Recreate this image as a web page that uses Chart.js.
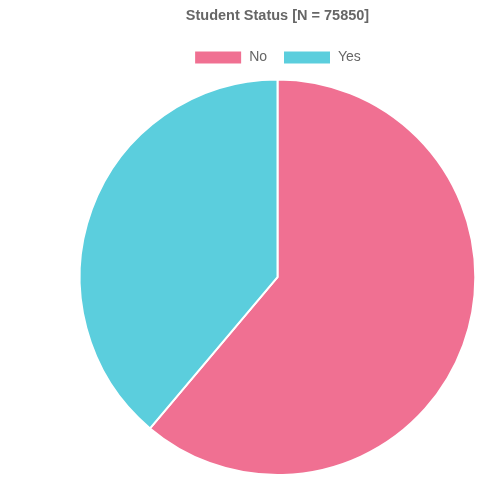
<!DOCTYPE html>
<html>
<head>
<meta charset="utf-8">
<script src="https://cdn.jsdelivr.net/npm/chart.js@4/dist/chart.umd.min.js"></script>
<style>
  html, body { margin: 0; padding: 0; background: #fff; overflow: hidden; }
  #wrap { position: absolute; left: 0; top: 0; width: 555px; height: 479px; }
</style>
</head>
<body>
<div id="wrap"><canvas id="myChart"></canvas></div>
<script>
const labels = ['No', 'Yes'];
const counts = [46380, 29470];
const colors = ['rgb(240, 112, 146)', 'rgb(91, 206, 221)'];

const total = counts.reduce((a, b) => a + b, 0);

// a bit more room under the legend
const legendGap = {
  id: 'legendGap',
  beforeInit(chart) {
    const fit = chart.legend.fit;
    chart.legend.fit = function () {
      fit.bind(chart.legend)();
      this.height += 4;
    };
  },
};

const ctx = document.getElementById('myChart').getContext('2d');
const data = {
  labels,
  datasets: [{
    data: counts,
    backgroundColor: colors,
    borderColor: '#fff',
    borderWidth: 2,
  }],
};
const config = {
  type: 'pie',
  data: data,
  plugins: [legendGap],
  options: {
    responsive: true,
    maintainAspectRatio: false,
    animation: false,
    layout: { padding: { bottom: 3 } },
    plugins: {
      title: {
        display: true,
        text: 'Student Status [N = ' + total + ']',
        color: '#666',
        font: { family: 'Liberation Sans', size: 14.5, weight: 'bold' },
        padding: { top: 7, bottom: 10 },
      },
      legend: {
        position: 'top',
        labels: {
          boxWidth: 48,
          boxHeight: 14,
          color: '#666',
          font: { family: 'Liberation Sans', size: 14 },
          padding: 16,
        },
      },
      tooltip: { enabled: false },
    },
  },
};
const myChart = new Chart(ctx, config);
</script>
</body>
</html>
